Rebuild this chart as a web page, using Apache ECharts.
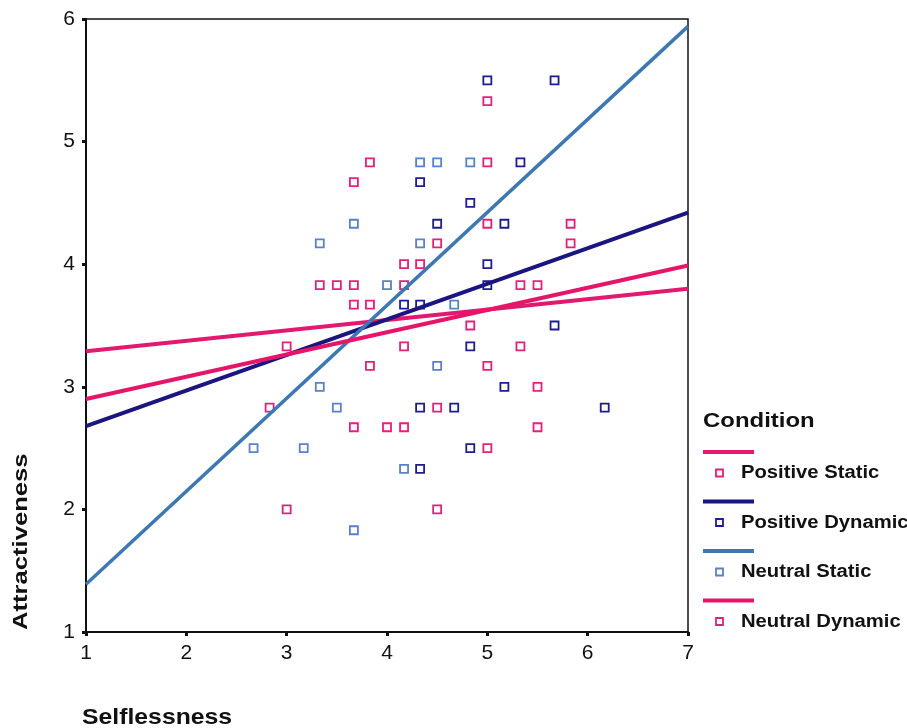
<!DOCTYPE html>
<html>
<head>
<meta charset="utf-8">
<script src="https://cdn.jsdelivr.net/npm/echarts@6/dist/echarts.min.js"></script>
<style>
html,body{margin:0;padding:0;background:#fff;}
#c{width:907px;height:728px;}
</style>
</head>
<body>
<div id="c"></div>
<script>
// ---- data ----
var xTicks = [1, 2, 3, 4, 5, 6, 7];
var yTicks = [1, 2, 3, 4, 5, 6];
var seriesNames = ['Positive Static', 'Positive Dynamic', 'Neutral Static', 'Neutral Dynamic'];

var positiveStatic = [
  [5.0, 5.33], [5.0, 4.83], [5.83, 4.33], [5.83, 4.17], [4.33, 4.0], [3.5, 3.83],
  [4.17, 3.83], [5.5, 3.83], [3.83, 3.67], [3.0, 3.33], [5.33, 3.33], [5.0, 3.17],
  [2.83, 2.83], [3.67, 2.67], [4.17, 2.67], [5.0, 2.5], [4.5, 2.0]
];
var positiveDynamic = [
  [5.0, 5.5], [5.67, 5.5], [5.33, 4.83], [4.33, 4.67], [4.83, 4.5], [4.5, 4.33],
  [5.17, 4.33], [5.0, 4.0], [5.0, 3.83], [4.17, 3.67], [4.33, 3.67], [5.67, 3.5],
  [4.83, 3.33], [5.17, 3.0], [4.33, 2.83], [4.67, 2.83], [6.17, 2.83], [4.83, 2.5],
  [4.33, 2.33]
];
var neutralStatic = [
  [4.33, 4.83], [4.5, 4.83], [4.83, 4.83], [3.67, 4.33], [3.33, 4.17], [4.33, 4.17],
  [4.0, 3.83], [4.67, 3.67], [4.5, 3.17], [3.33, 3.0], [3.5, 2.83], [2.67, 2.5],
  [3.17, 2.5], [4.17, 2.33], [3.67, 1.83]
];
var neutralDynamic = [
  [3.83, 4.83], [3.67, 4.67], [5.0, 4.33], [4.5, 4.17], [4.17, 4.0], [3.33, 3.83],
  [3.67, 3.83], [5.33, 3.83], [3.67, 3.67], [4.83, 3.5], [4.17, 3.33], [3.83, 3.17],
  [5.5, 3.0], [4.5, 2.83], [4.0, 2.67], [5.5, 2.67], [3.0, 2.0]
];

// fitted lines (endpoints at x = 1 and x = 7)
var fitPositiveStatic = [[1, 3.29], [7, 3.80]];
var fitPositiveDynamic = [[1, 2.68], [7, 4.42]];
var fitNeutralStatic = [[1, 1.39], [7, 5.94]];
var fitNeutralDynamic = [[1, 2.90], [7, 3.99]];

// ---- styles ----
var lineColors = ['#e3186f', '#1b1580', '#3e78b2', '#e5166a'];
var markColors = ['#e3207a', '#1d1d90', '#5a80c8', '#e3207a'];
var pointSets = [positiveStatic, positiveDynamic, neutralStatic, neutralDynamic];
var fitSets = [fitPositiveStatic, fitPositiveDynamic, fitNeutralStatic, fitNeutralDynamic];
var lineWidths = [4, 4, 3.5, 4];

var FONT = '"Liberation Sans", Arial, sans-serif';

var series = [];
pointSets.forEach(function (d, i) {
  series.push({
    name: seriesNames[i],
    type: 'scatter',
    data: d,
    symbol: 'rect',
    symbolSize: 8,
    z: 2,
    itemStyle: { color: '#ffffff', borderColor: markColors[i], borderWidth: 1.8, opacity: 1 },
    emphasis: { disabled: true }
  });
});
fitSets.forEach(function (d, i) {
  series.push({
    name: seriesNames[i] + ' fit',
    type: 'line',
    data: d,
    showSymbol: false,
    symbol: 'none',
    z: 3,
    lineStyle: { color: lineColors[i], width: lineWidths[i] },
    emphasis: { disabled: true }
  });
});

// custom legend and axis titles
var legendX = 703, legendTop = 452, legendStep = 49.5;
var graphics = [
  { type: 'text', x: 703, y: 421.5, scaleX: 1.26, scaleY: 1.02,
    style: { text: 'Condition', font: 'bold 19px ' + FONT, fill: '#111', textAlign: 'left', textVerticalAlign: 'middle' } },
  { type: 'text', x: 21, y: 630, rotation: Math.PI / 2, scaleX: 1.22, scaleY: 1.0,
    style: { text: 'Attractiveness', font: 'bold 21px ' + FONT, fill: '#111', textAlign: 'left', textVerticalAlign: 'middle' } },
  { type: 'text', x: 82, y: 718, scaleX: 1.18, scaleY: 1.05,
    style: { text: 'Selflessness', font: 'bold 21px ' + FONT, fill: '#111', textAlign: 'left', textVerticalAlign: 'middle' } }
];
seriesNames.forEach(function (n, i) {
  var y = legendTop + i * legendStep;
  graphics.push({ type: 'line', shape: { x1: legendX, y1: y, x2: legendX + 51, y2: y },
    style: { stroke: lineColors[i], lineWidth: 4 } });
  graphics.push({ type: 'rect', shape: { x: legendX + 13, y: y + 17.5, width: 7, height: 7 },
    style: { fill: '#fff', stroke: markColors[i], lineWidth: 1.8 } });
  graphics.push({ type: 'text', x: legendX + 38, y: y + 21.5, scaleX: 1.19, scaleY: 1.04,
    style: { text: n, font: 'bold 17px ' + FONT, fill: '#111', textAlign: 'left', textVerticalAlign: 'middle' } });
});

var chart = echarts.init(document.getElementById('c'), null, { renderer: 'canvas' });
chart.setOption({
  animation: false,
  backgroundColor: '#ffffff',
  grid: { left: 86, right: 219, top: 19, bottom: 96, show: true, borderColor: '#111', borderWidth: 1.5, backgroundColor: 'transparent' },
  xAxis: {
    type: 'value', min: 1, max: 7, interval: 1,
    axisLine: { show: true, onZero: false, lineStyle: { color: '#111', width: 2 } },
    axisTick: { show: true, length: 4, lineStyle: { color: '#111', width: 3 } },
    axisLabel: { color: '#111', fontSize: 21, fontFamily: FONT, margin: 11,
      formatter: function (v) { return xTicks.indexOf(v) >= 0 ? String(v) : ''; } },
    splitLine: { show: false }
  },
  yAxis: {
    type: 'value', min: 1, max: 6, interval: 1,
    axisLine: { show: true, onZero: false, lineStyle: { color: '#111', width: 2 } },
    axisTick: { show: true, length: 4, lineStyle: { color: '#111', width: 3 } },
    axisLabel: { color: '#111', fontSize: 21, fontFamily: FONT, margin: 11,
      formatter: function (v) { return yTicks.indexOf(v) >= 0 ? String(v) : ''; } },
    splitLine: { show: false }
  },
  legend: { show: false },
  tooltip: { show: false },
  series: series,
  graphic: graphics
});
</script>
</body>
</html>
